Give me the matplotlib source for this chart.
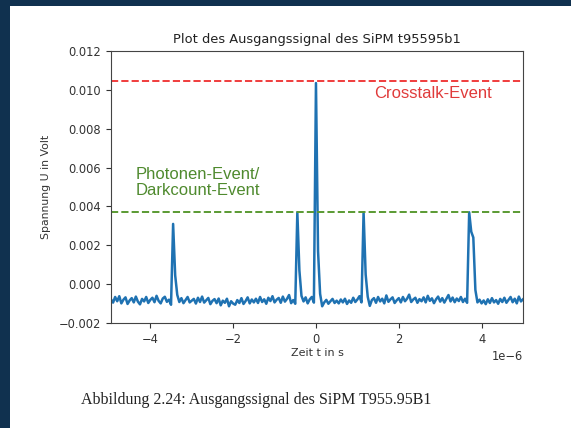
import numpy as np
import matplotlib
matplotlib.use('Agg')
import matplotlib.pyplot as plt
from matplotlib.patches import Rectangle

# time axis in microseconds (sampling grid of the scope trace)
t_us = np.linspace(-4.95, 5.0, 200)

# signal in mV
signal_mV = [
    -0.78, -0.95, -0.66, -0.88, -0.62, -0.99, -0.80, -0.68, -1.02, -0.84,
    -0.72, -0.94, -0.64, -0.90, -1.04, -0.76, -0.89, -0.66, -0.97, -0.81,
    -0.70, -0.93, -0.60, -0.86, -0.99, -0.74, -0.65, -0.91, -0.80, -1.06,
    3.10, 0.45, -0.55, -0.92, -0.72, -0.98, -0.82, -0.66, -0.94, -0.85,
    -0.76, -1.00, -0.70, -0.92, -0.64, -0.95, -0.83, -0.71, -1.03, -0.86,
    -0.77, -0.98, -0.74, -1.09, -0.85, -0.96, -0.75, -1.14, -0.88, -1.00,
    -1.06, -0.82, -0.97, -0.72, -1.02, -0.87, -0.68, -0.99, -0.79, -0.94,
    -0.75, -0.97, -0.66, -0.92, -0.78, -1.01, -0.70, -0.87, -0.62, -0.94,
    -0.80, -0.71, -0.96, -0.64, -0.90, -0.76, -0.56, -0.98, -0.82, -1.01,
    3.70, 0.70, -0.60, -0.89, -0.68, -0.99, -0.78, -0.66, -0.95, 10.35,
    1.70, -0.50, -1.14, -0.94, -0.81, -1.01, -0.88, -0.76, -0.97, -0.85,
    -0.99, -0.79, -0.94, -0.75, -1.02, -0.84, -0.96, -0.70, -0.92, -0.79,
    -0.62, -0.94, 3.70, 0.50, -0.65, -1.12, -0.82, -0.72, -0.96, -0.66,
    -0.89, -0.75, -0.99, -0.58, -0.91, -0.78, -0.68, -0.97, -0.83, -0.72,
    -0.94, -0.66, -0.88, -0.75, -0.54, -0.92, -0.79, -0.70, -0.96, -0.77,
    -0.88, -0.68, -0.94, -0.60, -0.86, -0.73, -0.98, -0.78, -0.64, -0.90,
    -0.72, -0.95, -0.76, -0.56, -0.89, -0.69, -0.93, -0.74, -0.87, -0.66,
    -0.92, -0.75, -0.96, 3.70, 2.70, 2.40, -0.30, -0.94, -0.80, -0.99,
    -0.84, -1.03, -0.78, -0.97, -0.72, -0.94, -0.82, -1.01, -0.76, -0.92,
    -0.70, -0.96, -0.81, -0.66, -0.93, -0.75, -0.99, -0.64, -0.89, -0.78,
]

crosstalk_level = 0.01045
photon_level = 0.0037

t = t_us * 1e-6
u = np.array(signal_mV) * 1e-3

fig = plt.figure(figsize=(5.71, 4.28), dpi=100, facecolor='#10314f')
# white document page, behind everything
fig.patches.append(Rectangle((10 / 571, 0), 1, 422 / 428, transform=fig.transFigure,
                             facecolor='white', edgecolor='none', zorder=-10))

ax = fig.add_axes([111 / 571, 105 / 428, 412 / 571, 272 / 428])
ax.set_zorder(5)
ax.plot(t, u, color='#1f72b2', lw=1.8)
ax.axhline(crosstalk_level, color='#f03c3c', ls='--', lw=1.4)
ax.axhline(photon_level, color='#5a9a32', ls='--', lw=1.4)

ax.text(2.83e-6, 0.00979, 'Crosstalk-Event', color='#e03a3a', fontsize=12,
        family='Liberation Sans', ha='center', va='center')
ax.text(-4.35e-6, 0.00523, 'Photonen-Event/\nDarkcount-Event', color='#4f8a2e',
        fontsize=12, family='Liberation Sans', ha='left', va='center', linespacing=1.1)

ax.set_xlim(-4.95e-6, 5.0e-6)
ax.set_ylim(-0.002, 0.012)
ax.set_yticks(np.arange(-0.002, 0.0121, 0.002))
ax.tick_params(labelsize=8.3, colors='#333333')
ax.xaxis.get_offset_text().set_fontsize(8.3)
for s in ax.spines.values():
    s.set_color('#444444')

ax.set_title('Plot des Ausgangssignal des SiPM t95595b1', fontsize=9.4, color='#222222')
ax.set_xlabel('Zeit t in s', fontsize=8, color='#333333', labelpad=2)
ax.set_ylabel('Spannung U in Volt', fontsize=7.8, color='#333333', labelpad=6)

fig.text(256 / 571, 1 - 400 / 428, 'Abbildung 2.24: Ausgangssignal des SiPM T955.95B1',
         family='Liberation Serif', fontsize=11.5, color='#222222', ha='center', va='center')

fig.savefig('out.png', dpi=100, facecolor=fig.get_facecolor())
